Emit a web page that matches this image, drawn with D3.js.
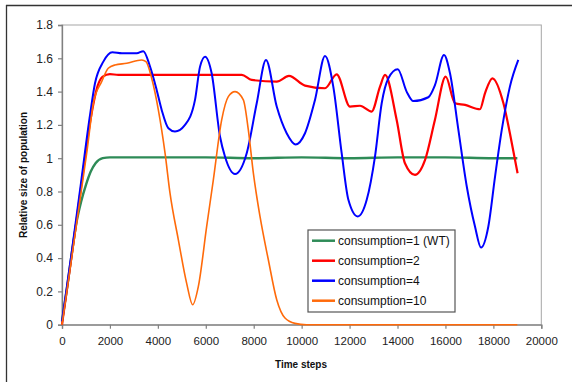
<!DOCTYPE html>
<html><head><meta charset="utf-8">
<script src="https://cdn.jsdelivr.net/npm/d3@7"></script>
<style>body{margin:0;background:#fff}svg{display:block}text{font-family:"Liberation Sans",Arial,sans-serif}</style>
</head><body>
<svg id="c" width="572" height="382"></svg>
<script>
const seriesNames = ["consumption=1 (WT)", "consumption=2", "consumption=4", "consumption=10"];
const seriesColors = ["#2E8B57", "#FF0000", "#0000FF", "#FF6A0A"];
const seriesWidths = [2.4, 2.2, 2, 1.6];
const xTicks = [0,2000,4000,6000,8000,10000,12000,14000,16000,18000,20000];
const yTicks = [0,0.2,0.4,0.6,0.8,1,1.2,1.4,1.6,1.8];

const wtX = [0,200,400,600,800,1000,1200,1400,1700,2000,4000,6000,8000,10000,12000,14000,16000,18000,19000];
const wtY = [0.02,0.21,0.42,0.61,0.74,0.84,0.92,0.97,1.0,1.005,1.005,1.005,1.0,1.005,1.0,1.005,1.005,1.0,1.0];

const c2X = [0,400,800,1200,1500,1700,2000,2350,4000,6000,7500,7915,8960,9470,10140,10975,11460,12020,12435,12920,13270,13480,13965,14310,14730,15150,15560,16010,16400,16820,17440,17650,17960,18420,18770,19010];
const c2Y = [0,0.41,0.83,1.24,1.44,1.49,1.505,1.5,1.5,1.5,1.5,1.47,1.46,1.494,1.436,1.42,1.504,1.31,1.315,1.28,1.43,1.5,1.23,0.97,0.90,0.99,1.23,1.49,1.33,1.32,1.294,1.39,1.48,1.33,1.09,0.91];

const c4X = [0,400,800,1150,1377,1725,2100,2500,3120,3394,3673,3950,4160,4440,4715,5133,5550,5760,5970,6245,6593,6800,7220,7707,8125,8512,8960,9375,9750,10140,10557,10975,11320,11670,11950,12340,12715,13060,13340,13620,14010,14380,14660,15285,15565,15940,16190,16540,16890,17233,17485,17790,18070,18350,18690,19040];
const c4Y = [0.02,0.43,0.86,1.24,1.45,1.58,1.636,1.63,1.63,1.643,1.55,1.41,1.29,1.18,1.16,1.20,1.35,1.55,1.61,1.51,1.13,1.01,0.905,1.03,1.33,1.59,1.31,1.15,1.083,1.15,1.35,1.614,1.43,1.03,0.75,0.65,0.75,1.01,1.33,1.48,1.534,1.40,1.343,1.366,1.44,1.62,1.51,1.17,0.83,0.59,0.463,0.59,0.89,1.17,1.43,1.59];

const c10X = [0,400,800,1050,1307,1655,1930,2212,2700,3324,3505,3742,4020,4300,4507,4855,5200,5453,5690,6037,6315,6663,6940,7220,7567,7775,7985,8262,8610,8960,9305,9722,10200,12000,14000,16000,18000,19000];
const c10Y = [0,0.40,0.80,1.05,1.33,1.46,1.54,1.56,1.57,1.59,1.58,1.48,1.29,1.03,0.79,0.51,0.25,0.12,0.23,0.59,0.87,1.23,1.37,1.40,1.35,1.17,0.91,0.65,0.39,0.15,0.04,0.008,0,0,0,0,0,0];

const seriesX = [wtX, c2X, c4X, c10X];
const seriesY = [wtY, c2Y, c4Y, c10Y];

const svg = d3.select("#c");
const L = 62, R = 541.3, T = 25, B = 324.7;
const x = d3.scaleLinear().domain([0,20000]).range([L,R]);
const y = d3.scaleLinear().domain([0,1.8]).range([B,T]);

// outer frame (top & left visible)
svg.append("line").attr("x1",6).attr("x2",572).attr("y1",5.5).attr("y2",5.5).attr("stroke","#333").attr("stroke-width",1.3);
svg.append("line").attr("x1",6.5).attr("x2",6.5).attr("y1",5).attr("y2",382).attr("stroke","#333").attr("stroke-width",1.3);

// plot area border
svg.append("rect").attr("x",L).attr("y",T).attr("width",R-L).attr("height",B-T).attr("fill","none").attr("stroke","#a6a6a6").attr("stroke-width",1);

const gx = svg.append("g").attr("transform",`translate(0,${B})`)
  .call(d3.axisBottom(x).tickValues(xTicks).tickFormat(d3.format("d")).tickSize(4).tickPadding(8));
const gy = svg.append("g").attr("transform",`translate(${L},0)`)
  .call(d3.axisLeft(y).tickValues(yTicks).tickFormat(d=>String(d)).tickSize(4).tickPadding(5));
[gx,gy].forEach(g=>{
  g.select(".domain").attr("stroke","#808080").attr("stroke-width",1.3);
  g.selectAll(".tick line").attr("stroke","#808080").attr("stroke-width",1.2);
  g.selectAll("text").attr("fill","#222").style("font-size","11.5px").style("font-family","'Liberation Sans',Arial,sans-serif");
});
gy.selectAll("text").style("font-size","12px");

const line = d3.line().curve(d3.curveMonotoneX);
seriesNames.forEach((n,i)=>{
  const pts = seriesX[i].map((v,j)=>[x(v), y(seriesY[i][j])]);
  svg.append("path").attr("d",line(pts)).attr("fill","none")
    .attr("stroke",seriesColors[i]).attr("stroke-width",seriesWidths[i]).attr("stroke-linejoin","round");
});

// axis titles
svg.append("text").attr("x",301).attr("y",368).attr("text-anchor","middle")
  .style("font-size","10px").style("font-weight","bold").attr("fill","#111").text("Time steps");
svg.append("text").attr("transform","translate(27,175) rotate(-90)").attr("text-anchor","middle")
  .style("font-size","10px").style("font-weight","bold").attr("fill","#111").text("Relative size of population");

// legend
const lg = svg.append("g");
lg.append("rect").attr("x",308).attr("y",230).attr("width",147).attr("height",82)
  .attr("fill","#fff").attr("stroke","#555").attr("stroke-width",1.2);
seriesNames.forEach((n,i)=>{
  const yy = 240.7 + i*20;
  lg.append("line").attr("x1",312).attr("x2",335).attr("y1",yy).attr("y2",yy)
    .attr("stroke",seriesColors[i]).attr("stroke-width",2.5);
  lg.append("text").attr("x",338).attr("y",yy+4.3).style("font-size","12px").attr("fill","#111").text(n);
});
</script>
</body></html>
